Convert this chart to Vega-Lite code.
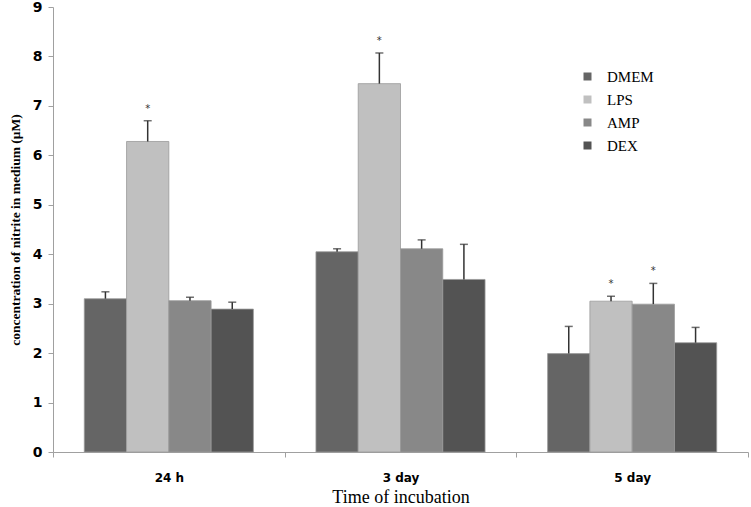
{
  "$schema": "https://vega.github.io/schema/vega-lite/v6.json",
  "width": 695,
  "height": 445,
  "autosize": {"type": "none"},
  "padding": {"left": 53, "top": 7, "right": 3, "bottom": 55},
  "background": "white",
  "config": {"view": {"stroke": null}},
  "data": {
    "values": [
      {"time": "24 h", "group": "DMEM", "value": 3.10, "upper": 3.24, "sig": false},
      {"time": "24 h", "group": "LPS", "value": 6.28, "upper": 6.70, "sig": true},
      {"time": "24 h", "group": "AMP", "value": 3.06, "upper": 3.13, "sig": false},
      {"time": "24 h", "group": "DEX", "value": 2.89, "upper": 3.03, "sig": false},
      {"time": "3 day", "group": "DMEM", "value": 4.05, "upper": 4.11, "sig": false},
      {"time": "3 day", "group": "LPS", "value": 7.45, "upper": 8.07, "sig": true},
      {"time": "3 day", "group": "AMP", "value": 4.11, "upper": 4.29, "sig": false},
      {"time": "3 day", "group": "DEX", "value": 3.49, "upper": 4.20, "sig": false},
      {"time": "5 day", "group": "DMEM", "value": 1.99, "upper": 2.54, "sig": false},
      {"time": "5 day", "group": "LPS", "value": 3.05, "upper": 3.15, "sig": true},
      {"time": "5 day", "group": "AMP", "value": 2.99, "upper": 3.41, "sig": true},
      {"time": "5 day", "group": "DEX", "value": 2.21, "upper": 2.52, "sig": false}
    ]
  },
  "encoding": {
    "x": {
      "field": "time",
      "type": "nominal",
      "sort": ["24 h", "3 day", "5 day"],
      "scale": {"paddingInner": 0, "paddingOuter": 0},
      "axis": {
        "title": "Time of incubation",
        "labelAngle": 0,
        "tickBand": "extent",
        "domainColor": "#a0a0a0",
        "tickColor": "#a0a0a0",
        "tickSize": 5,
        "labelFont": "DejaVu Sans",
        "labelFontWeight": "bold",
        "labelFontSize": 12,
        "labelColor": "#000",
        "labelPadding": 15,
        "titleFont": "Liberation Serif",
        "titleFontSize": 18,
        "titleFontWeight": "normal",
        "titleColor": "#000",
        "titlePadding": 5
      }
    },
    "xOffset": {
      "field": "group",
      "type": "nominal",
      "sort": ["DMEM", "LPS", "AMP", "DEX"],
      "scale": {"paddingInner": 0, "paddingOuter": 0.74}
    }
  },
  "layer": [
    {
      "mark": {"type": "bar", "stroke": "#9a9a9a", "strokeWidth": 0.8},
      "encoding": {
        "y": {
          "field": "value",
          "type": "quantitative",
          "scale": {"domain": [0, 9], "nice": false},
          "axis": {
            "title": "concentration of nitrite in medium (μM)",
            "values": [0, 1, 2, 3, 4, 5, 6, 7, 8, 9],
            "grid": false,
            "domainColor": "#a0a0a0",
            "tickColor": "#a0a0a0",
            "tickSize": 5,
            "labelFont": "DejaVu Sans",
            "labelFontWeight": "bold",
            "labelFontSize": 14,
            "labelColor": "#000",
            "labelPadding": 6,
            "titleFont": "Liberation Serif",
            "titleFontSize": 13.5,
            "titleFontWeight": "bold",
            "titleColor": "#000",
            "titlePadding": 10
          }
        },
        "color": {
          "field": "group",
          "type": "nominal",
          "sort": ["DMEM", "LPS", "AMP", "DEX"],
          "scale": {
            "domain": ["DMEM", "LPS", "AMP", "DEX"],
            "range": ["#656565", "#c0c0c0", "#888888", "#535353"]
          },
          "legend": {
            "title": null,
            "orient": "none",
            "legendX": 527,
            "legendY": 62,
            "symbolType": "square",
            "symbolSize": 64,
            "symbolStrokeWidth": 0,
            "labelFont": "Liberation Serif",
            "labelFontSize": 15,
            "labelColor": "#000",
            "labelOffset": 12,
            "rowPadding": 7
          }
        }
      }
    },
    {
      "mark": {"type": "rule", "color": "#333333", "strokeWidth": 1.5},
      "encoding": {
        "y": {"field": "value", "type": "quantitative"},
        "y2": {"field": "upper"}
      }
    },
    {
      "mark": {"type": "tick", "color": "#333333", "size": 8, "thickness": 1.5},
      "encoding": {
        "y": {"field": "upper", "type": "quantitative"}
      }
    },
    {
      "transform": [{"filter": "datum.sig"}],
      "mark": {"type": "text", "text": "*", "font": "DejaVu Sans", "fontSize": 10, "color": "#333", "baseline": "middle", "dy": -12},
      "encoding": {
        "y": {"field": "upper", "type": "quantitative"}
      }
    }
  ]
}
